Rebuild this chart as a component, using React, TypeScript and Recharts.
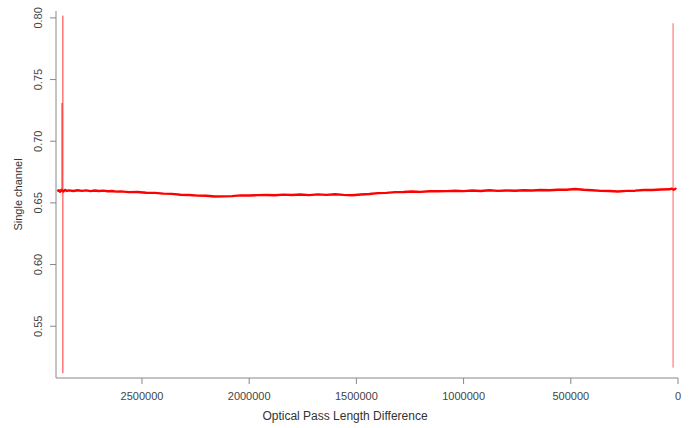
import { LineChart, Line, XAxis, YAxis } from "recharts";

// optical pass length difference (thousands) and the single channel level
const passK = [
  2895, 2888, 2882, 2876, 2871, 2866, 2860, 2850, 2840, 2820, 2800, 2780, 2760, 2740, 2720, 2700, 2680, 2660, 2640,
  2620, 2600, 2560, 2520, 2480, 2440, 2400, 2360, 2320, 2280, 2240, 2200, 2160, 2120, 2080, 2040,
  2000, 1960, 1920, 1880, 1840, 1800, 1760, 1720, 1680, 1640, 1600, 1560, 1520, 1480, 1440,
  1400, 1360, 1320, 1280, 1240, 1200, 1160, 1120, 1080, 1040, 1000, 960, 920, 880, 840,
  800, 760, 720, 680, 640, 600, 560, 520, 480, 440, 400, 360, 320, 280, 240,
  200, 160, 120, 80, 40, 30, 20, 12, 8,
];
const channel = [
  0.6594, 0.6603, 0.659, 0.6606, 0.6598, 0.6592, 0.6605, 0.6597, 0.6601, 0.6596, 0.6602, 0.6597, 0.6601, 0.6595, 0.6600, 0.6596, 0.6599, 0.6594, 0.6596,
  0.6591, 0.6593, 0.6587, 0.6588, 0.6582, 0.6581, 0.6575, 0.6573, 0.6566, 0.6564, 0.6559, 0.6558, 0.6552, 0.6553, 0.6555, 0.6561,
  0.6560, 0.6563, 0.6564, 0.6562, 0.6567, 0.6564, 0.6568, 0.6563, 0.6569, 0.6565, 0.6570, 0.6565, 0.6562, 0.6568, 0.6572,
  0.6579, 0.6581, 0.6587, 0.6588, 0.6592, 0.6589, 0.6594, 0.6594, 0.6595, 0.6598, 0.6595, 0.6600, 0.6596, 0.6602, 0.6597,
  0.6601, 0.6598, 0.6603, 0.6600, 0.6605, 0.6602, 0.6607, 0.6607, 0.6613, 0.6606, 0.6603, 0.6597, 0.6596, 0.6592, 0.6597,
  0.6599, 0.6604, 0.6605, 0.6609, 0.6610, 0.6616, 0.6607, 0.6615, 0.6610,
];

// the spikes at the ends of the scan
const leftSpike = [
  { x: 2869000, v: 0.5119 },
  { x: 2869000, v: 0.8019 },
];
const shortSpike = [
  { x: 2873000, v: 0.66 },
  { x: 2873000, v: 0.731 },
];
const rightSpike = [
  { x: 23000, v: 0.5164 },
  { x: 23000, v: 0.7957 },
];

const xTicks = [0, 500000, 1000000, 1500000, 2000000, 2500000];
const yTicks = [0.55, 0.6, 0.65, 0.7, 0.75, 0.8];

const mainData = passK.map((k, i) => ({ x: k * 1000, v: channel[i] }));

const font = "'Liberation Sans', Arial, sans-serif";

function YTick(props: any) {
  const { x, y, payload } = props;
  const cx = x - 10;
  return (
    <text
      x={cx}
      y={y}
      dy="0.35em"
      textAnchor="middle"
      transform={`rotate(-90, ${cx}, ${y})`}
      fill="#444"
      fontSize={11}
      fontFamily={font}
    >
      {payload.value.toFixed(2)}
    </text>
  );
}

export default function App() {
  return (
    <div style={{ position: "absolute", left: 0, top: 0, background: "#fff" }}>
      <LineChart width={691} height={428} margin={{ top: 11, right: 13, bottom: 0, left: 0 }}>
        <XAxis
          xAxisId="top"
          orientation="top"
          type="number"
          dataKey="x"
          domain={[0, 2901000]}
          reversed
          height={0}
          tick={false}
          tickLine={false}
          axisLine={{ stroke: "#333" }}
        />
        <YAxis
          yAxisId="right"
          orientation="right"
          type="number"
          domain={[0.508, 0.8056]}
          width={0}
          tick={false}
          tickLine={false}
          axisLine={{ stroke: "#888" }}
        />
        <XAxis
          type="number"
          dataKey="x"
          domain={[0, 2901000]}
          reversed
          ticks={xTicks}
          interval={0}
          height={50}
          tickSize={6}
          tickMargin={8}
          stroke="#888"
          tick={{ fill: "#444", fontSize: 11, fontFamily: font }}
          label={{
            value: "Optical Pass Length Difference",
            position: "insideBottom",
            offset: 8,
            dx: -22,
            fill: "#333",
            fontSize: 12,
            fontFamily: font,
          }}
        />
        <YAxis
          type="number"
          domain={[0.508, 0.8056]}
          ticks={yTicks}
          interval={0}
          width={56}
          tickSize={6}
          stroke="#888"
          tick={<YTick />}
          label={{
            value: "Single channel",
            angle: -90,
            position: "insideLeft",
            offset: 18,
            style: { textAnchor: "middle" },
            fill: "#333",
            fontSize: 11,
            fontFamily: font,
          }}
        />
        <Line
          data={leftSpike}
          dataKey="v"
          stroke="#ff3030"
          strokeWidth={1}
          dot={false}
          isAnimationActive={false}
        />
        <Line
          data={shortSpike}
          dataKey="v"
          stroke="#ff2020"
          strokeWidth={1}
          dot={false}
          isAnimationActive={false}
        />
        <Line
          data={rightSpike}
          dataKey="v"
          stroke="#ff6060"
          strokeWidth={1}
          dot={false}
          isAnimationActive={false}
        />
        <Line
          data={mainData}
          dataKey="v"
          stroke="#ff0000"
          strokeWidth={2.4}
          strokeLinejoin="round"
          dot={false}
          isAnimationActive={false}
        />
      </LineChart>
    </div>
  );
}
